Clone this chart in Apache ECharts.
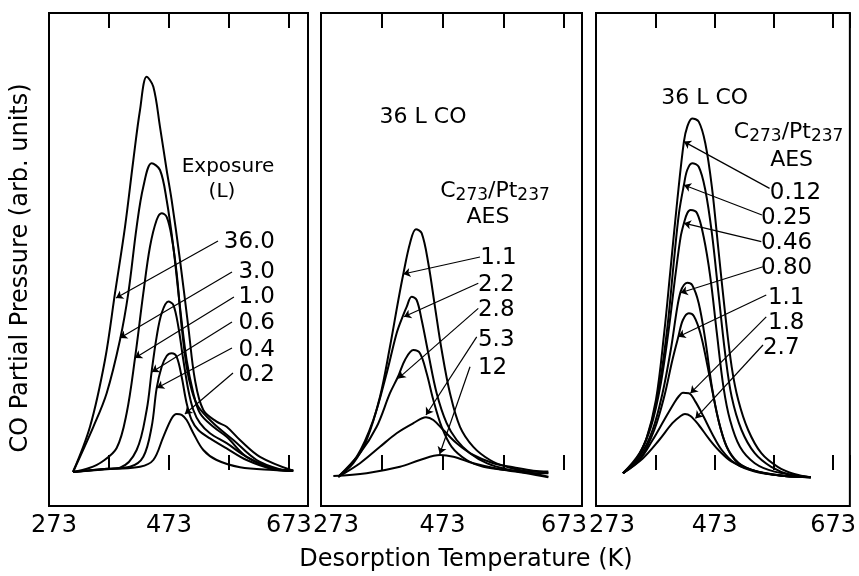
<!DOCTYPE html>
<html>
<head>
<meta charset="utf-8">
<script src="https://cdn.jsdelivr.net/npm/echarts@6/dist/echarts.min.js"></script>
<style>
  html, body { margin: 0; padding: 0; background: #fff; }
  #chart { width: 859px; height: 576px; }
</style>
</head>
<body>
<div id="chart"></div>
<script>
// ---- panel 1: CO exposure (L) ----
const exp36 = [[313,-0.5],[341.3,10.8],[366.3,27.5],[383,44.2],[399.7,60.8],[413.6,77.5],[424.7,90],[435.8,98.3],[446.9,95.8],[458,85.8],[469.1,75],[477.4,67.5],[491.3,52.5],[505.2,35.8],[516.3,22.5],[530.2,15],[552.4,12.1],[569.1,10.8],[591.3,7.5],[624.7,3.3],[680,-0.2]];
const exp3 = [[313,-0.5],[346.9,10.8],[369.1,19.2],[391.3,32.5],[405.2,44.2],[419.1,60.8],[430.2,70.8],[444.1,76.7],[458,75],[469.1,67.5],[480.2,55.8],[491.3,40.8],[502.4,27.5],[513.6,19.2],[524.7,14.2],[546.9,10.8],[569.1,8.3],[602.4,3.3],[646.9,0.4],[680,-0.2]];
const exp1 = [[313,-0.5],[340,0.5],[360.8,2],[385.8,5.5],[402.4,14.2],[416.3,27.9],[430.2,44.2],[441.3,55.8],[452.4,62.5],[460.8,64.2],[469.1,63.3],[477.4,58.3],[485.8,49.2],[494.1,35.8],[502.4,25.8],[510.8,20],[521.9,15.8],[546.9,11.7],[580.2,7.5],[619.1,2.5],[658,0.2],[680,-0.2]];
const exp06 = [[313,-0.5],[360,0.2],[391.3,0.6],[419.1,5],[435.8,15],[444.1,24.6],[452.4,33.3],[460.8,39.2],[471.9,42.1],[480.2,41.3],[488.6,35.8],[496.9,27.5],[505.2,20],[513.6,15],[524.7,11.7],[541.3,9.2],[569.1,6.7],[602.4,3.3],[646.9,0.4],[680,-0.2]];
const exp04 = [[313,-0.5],[370,0.3],[408,0.8],[430.2,3.3],[444.1,10.8],[452.4,20.4],[460.8,25.8],[469.1,28.5],[477.4,29.2],[485.8,28.3],[494.1,23.3],[502.4,16.7],[510.8,12.5],[521.9,10],[541.3,7.9],[569.1,5.4],[602.4,2.5],[646.9,0.2],[680,-0.2]];
const exp02 = [[313,-0.5],[380,0.3],[424.7,0.8],[446.9,2.5],[463.6,8.3],[477.4,12.9],[485.8,14],[494.1,13.8],[502.4,12.5],[513.6,9.2],[530.2,5],[552.4,2.5],[591.3,0.7],[646.9,0],[680,-0.2]];

// ---- panel 2: 36 L CO, carbon coverage (AES ratio) ----
const cov11 = [[301.5,-1.7],[326.2,1.7],[348.1,7.5],[370.1,18.3],[386.5,30.8],[400.3,42.5],[408.5,49],[419.5,56.7],[429.3,60.2],[438.7,59.2],[449.6,51.7],[460.6,40.8],[471.6,30],[485.3,19.2],[501.8,10.8],[523.7,5.8],[551.2,2.5],[578.6,0.8],[622.5,-0.8],[647.2,-1.7]];
const cov22 = [[301.5,-1.7],[331.7,3.3],[359.1,12.5],[381.1,24.2],[397.5,34.2],[408.5,38.8],[414,40.8],[422.2,43.3],[430.4,42.5],[438.7,37.5],[449.6,29.2],[463.4,19.2],[479.8,11.7],[496.3,7.5],[518.2,4.2],[545.7,1.7],[578.6,0.2],[622.5,-0.8],[647.2,-0.8]];
const cov28 = [[301.5,-1.7],[337.2,4.2],[364.6,10.8],[386.5,19.2],[400.3,23.5],[411.2,27.5],[425,30],[435.9,29.2],[446.9,24.2],[457.9,17.5],[471.6,10.8],[488.1,5.8],[512.8,2.5],[540.2,0.8],[578.6,0],[622.5,-0.4],[647.2,-0.7]];
const cov53 = [[301.5,-1.7],[337.2,1.7],[370.1,5.8],[397.5,9.2],[425,11.7],[445.8,13.2],[457.9,12.5],[474.3,10],[496.3,6.7],[523.7,3.75],[556.6,1.7],[589.5,0.7],[622.5,-0.2],[647.2,-0.4]];
const cov12 = [[293.3,-1.5],[348.1,-0.8],[403,0.8],[435.9,2.5],[468.9,3.75],[490.8,3.3],[523.7,1.7],[567.6,0.2],[611.5,-0.8],[647.2,-1.8]];

// ---- panel 3: 36 L CO, lower carbon coverage ----
const low012 = [[318.5,-0.8],[340.8,2.5],[357.4,7.5],[374.1,17.5],[388,34.2],[399.1,50.8],[410.2,67.5],[421.3,82.1],[426.9,85.8],[435.2,87.9],[446.3,87.1],[457.4,81.7],[468.5,70.8],[479.6,55],[490.8,39.2],[501.9,25.8],[513,17.5],[529.7,10],[551.9,4.2],[579.6,0.8],[607.4,-1],[635.2,-1.8]];
const low025 = [[318.5,-0.8],[343.5,3.3],[363,10],[379.6,20.8],[393.5,35.8],[404.6,52.5],[413,64.2],[421.3,71.25],[426.9,75],[435.2,76.7],[446.3,75.8],[457.4,70],[468.5,59.2],[479.6,44.2],[490.8,29.2],[501.9,18.3],[518.5,10],[540.8,4.2],[568.5,0.8],[601.9,-1.25],[635.2,-1.8]];
const low046 = [[318.5,-0.8],[346.3,4.2],[365.8,10.8],[382.4,21.7],[396.3,35.8],[407.4,49.2],[415.8,58.3],[421.3,61.7],[426.9,64.2],[432.4,65],[443.5,64.2],[454.6,58.3],[465.8,48.3],[476.9,34.2],[488,20.8],[499.1,12.5],[515.8,5.8],[540.8,1.7],[574.1,-0.4],[635.2,-1.8]];
const low080 = [[318.5,-0.8],[346.3,3.3],[368.5,10],[385.2,19.2],[399.1,30],[410.2,40.8],[415.8,44.6],[421.3,46.25],[426.9,46.8],[435.2,46.25],[446.3,41.7],[457.4,32.5],[468.5,20.8],[479.6,12.5],[493.5,5.8],[513,1.7],[546.3,-0.4],[590.8,-1.5],[635.2,-1.8]];
const low11 = [[318.5,-0.8],[349.1,3.3],[371.3,10],[388,18.3],[401.9,27.5],[411.9,33.3],[419.6,37.5],[429.6,39.2],[438,38.5],[449.1,34.2],[460.2,26.7],[471.3,18.3],[482.4,10.8],[496.3,5],[518.5,1.25],[557.4,-0.8],[635.2,-1.8]];
const low18 = [[318.5,-0.8],[346.3,2.5],[368.5,7.5],[388,12.5],[404.6,16.7],[413,18.5],[419.6,19.3],[429.6,19.2],[440.7,17.1],[454.6,13.3],[468.5,9.2],[485.2,5],[507.4,1.7],[540.8,-0.4],[590.8,-1.5],[635.2,-1.8]];
const low27 = [[318.5,-0.8],[351.9,2.9],[379.6,7.5],[401.9,11.7],[415.8,13.5],[423,14],[432.4,13.5],[446.3,11.25],[463,7.9],[479.6,5],[501.9,2.1],[535.2,0],[590.8,-1.5],[635.2,-1.8]];

// ---- annotations: [text, T, value] and arrows [tailT, tailV, tipT, tipV] ----
const p1Heads = [['Exposure',571.3,75.75],['(L)',561.3,69.5]];
const p1Nums = [['36.0',649.7,57],['3.0',649.7,49.5],['1.0',649.7,43.25],['0.6',649.7,36.75],['0.4',649.7,30],['0.2',649.7,23.75]];
const p1Arrows = [[554.7,57.25,384.7,43],[578,49.5,391.3,33],[581.3,43.25,416.3,28],[578,37,444.7,24.5],[578,30.5,453,20.5],[579.7,24.25,499.5,14]];

const p2Heads = [['36 L CO',440.9,88.25],['{n|C}{s|273}{n|/Pt}{s|237}',559.4,69.5],['AES',547.9,63.25]];
const p2Nums = [['1.1',535,53],['2.2',531.4,46.25],['2.8',531.4,40],['5.3',531.4,32.5],['12',531.4,25.5]];
const p2Arrows = [[534.7,53.25,408.5,49],[531.9,46.7,409.6,38.3],[531.9,40.4,400.2,22.9],[529.3,33.3,445.8,13.75],[518.3,25.8,468.4,4]];

const p3Heads = [['36 L CO',456.3,93],['{n|C}{s|273}{n|/Pt}{s|237}',598,84.25],['AES',603,77.5]];
const p3Nums = [['0.12',566.3,69.25],['0.25',551.3,63],['0.46',551.3,56.75],['0.80',551.3,50.5],['1.1',563,43],['1.8',563,36.75],['2.7',554.7,30.5]];
const p3Arrows = [[565.8,70.4,421.3,82.1],[553,63.75,421.3,71.25],[551.9,57.1,421.3,61.7],[554.7,50.8,415.8,44.3],[560.2,43.75,411.9,33.3],[560.2,38.3,432.4,19.2],[554.7,31.25,440.8,12.9]];

const tickLabels = [273, 473, 673];

const FONT = '"DejaVu Sans", sans-serif';
const INK = '#000';

const panels = [
  { left: 49, width: 259, max: 704.7, pad273: 10, numAlign: 'right',
    curves: [exp36, exp3, exp1, exp06, exp04, exp02], heads: p1Heads, nums: p1Nums, arrows: p1Arrows },
  { left: 321, width: 261, max: 702.6, pad273: 30, numAlign: 'left',
    curves: [cov11, cov22, cov28, cov53, cov12], heads: p2Heads, nums: p2Nums, arrows: p2Arrows },
  { left: 596, width: 257, max: 701.3, pad273: 32, numAlign: 'left',
    curves: [low012, low025, low046, low080, low11, low18, low27], heads: p3Heads, nums: p3Nums, arrows: p3Arrows }
];

const richSub = {
  n: { fontSize: 22, fontFamily: FONT, color: INK, lineHeight: 24, verticalAlign: 'top' },
  s: { fontSize: 17, fontFamily: FONT, color: INK, lineHeight: 17, padding: [14, 0, 0, 0], verticalAlign: 'bottom' }
};

const grid = [], xAxis = [], yAxis = [], series = [];

panels.forEach((p, i) => {
  grid.push({ left: p.left, width: p.width, top: 13, height: 493, show: true,
    borderColor: INK, borderWidth: 2, backgroundColor: 'transparent' });

  const baseAxis = {
    type: 'value', gridIndex: i, min: 273, max: p.max, interval: 100,
    axisLine: { show: false }, splitLine: { show: false },
    axisTick: { inside: true, length: 15, lineStyle: { color: INK, width: 2 } }
  };
  xAxis.push(Object.assign({}, baseAxis, {
    position: 'bottom',
    axisLabel: {
      margin: 8, fontSize: 24, color: INK, fontFamily: FONT,
      formatter: v => {
        const r = Math.round(v);
        if (r === 273) return '{a|273}';
        return tickLabels.includes(r) ? String(r) : '';
      },
      rich: { a: { fontSize: 24, color: INK, fontFamily: FONT, padding: [0, 0, 0, p.pad273] } }
    }
  }));
  xAxis.push(Object.assign({}, baseAxis, { position: 'top', axisLabel: { show: false } }));
  yAxis.push({ type: 'value', gridIndex: i, min: -9, max: 114.25, show: false });

  p.curves.forEach(c => {
    series.push({
      type: 'line', xAxisIndex: 2 * i, yAxisIndex: i, data: c, smooth: 0.35,
      symbol: 'none', silent: true, lineStyle: { color: INK, width: 2 }
    });
  });

  series.push({
    type: 'lines', coordinateSystem: 'cartesian2d', xAxisIndex: 2 * i, yAxisIndex: i,
    symbol: ['none', 'arrow'], symbolSize: 7, silent: true,
    lineStyle: { color: INK, width: 1.2, opacity: 1 },
    data: p.arrows.map(a => ({ coords: [[a[0], a[1]], [a[2], a[3]]] }))
  });

  const small = t => t === 'Exposure' || t === '(L)';
  series.push({
    type: 'scatter', xAxisIndex: 2 * i, yAxisIndex: i, symbolSize: 0, silent: true,
    itemStyle: { opacity: 1 },
    label: { show: true, position: 'inside', color: INK, opacity: 1, fontFamily: FONT, fontSize: 22,
      verticalAlign: 'middle', rich: richSub },
    data: p.heads.map(h => ({ value: [h[1], h[2]],
      label: { formatter: h[0], align: 'center', color: INK, fontSize: small(h[0]) ? 20 : 22 } }))
      .concat(p.nums.map(n => ({ value: [n[1], n[2]],
        label: { formatter: n[0], align: p.numAlign, color: INK, fontSize: 23 } })))
  });
});

const chart = echarts.init(document.getElementById('chart'), null, { renderer: 'canvas' });
chart.setOption({
  animation: false,
  backgroundColor: '#fff',
  grid, xAxis, yAxis, series,
  graphic: [
    { type: 'text', x: 21, y: 268, rotation: Math.PI / 2,
      style: { text: 'CO Partial Pressure (arb. units)', font: '24px ' + FONT, fill: INK,
        textAlign: 'center', textVerticalAlign: 'middle' } },
    { type: 'text', x: 466, y: 560,
      style: { text: 'Desorption Temperature (K)', font: '24px ' + FONT, fill: INK,
        textAlign: 'center', textVerticalAlign: 'middle' } }
  ]
});
</script>
</body>
</html>
